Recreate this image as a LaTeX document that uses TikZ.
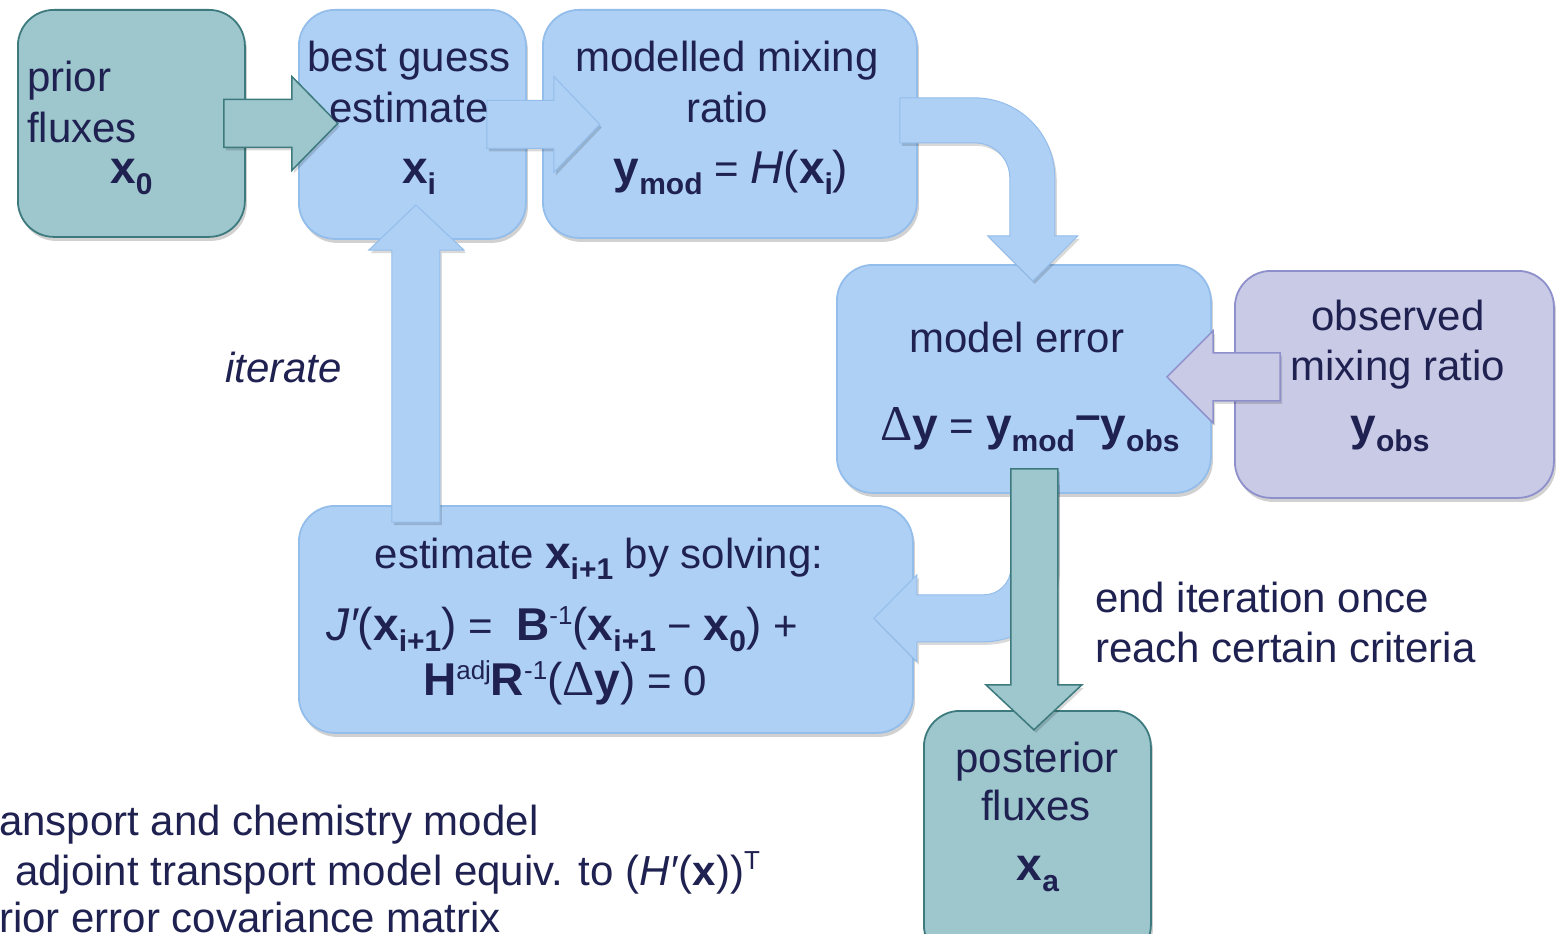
\documentclass[tikz,border=0pt]{standalone}
\usepackage{fontspec}
\setmainfont{Liberation Sans}
\newfontfamily\serifgreek{Liberation Serif}
\usetikzlibrary{calc,shadows}
\definecolor{txt}{HTML}{1F2151}
\definecolor{tealfill}{HTML}{9DC6CD}
\definecolor{tealline}{HTML}{3D7A7E}
\definecolor{bluefill}{HTML}{AFD0F5}
\definecolor{blueline}{HTML}{93BDEB}
\definecolor{purplefill}{HTML}{C9CAE6}
\definecolor{purpleline}{HTML}{8E90CB}
\newcommand{\fs}{\fontsize{42}{50}\selectfont}
\newcommand{\bv}[1]{{\fontsize{46}{50}\selectfont\bfseries #1}}
\newcommand{\rv}[1]{{\fontsize{46}{50}\selectfont #1}}
\newcommand{\bsub}[1]{\raisebox{-11pt}{\fontsize{30}{30}\selectfont\bfseries #1}}
\newcommand{\rsup}[1]{\raisebox{16pt}{\fontsize{26}{26}\selectfont #1}}
\newcommand{\Dlt}{{\fontsize{50}{50}\selectfont\serifgreek Δ}}
\tikzset{
  box/.style={draw, rounded corners=36pt, line width=1.8pt, anchor=north west,
    drop shadow={shadow xshift=2pt, shadow yshift=-4pt, opacity=0.18, fill=black}},
  tealbox/.style={box, fill=tealfill, draw=tealline},
  bluebox/.style={box, fill=bluefill, draw=blueline},
  purplebox/.style={box, fill=purplefill, draw=purpleline},
  arrowshadow/.style={drop shadow={shadow xshift=2pt, shadow yshift=-3pt, opacity=0.15, fill=black}},
  tealarrow/.style={fill=tealfill, draw=tealline, line width=1.5pt, arrowshadow},
  bluearrow/.style={fill=bluefill, draw=blueline, line width=1pt, arrowshadow},
  purplearrow/.style={fill=purplefill, draw=purpleline, line width=1.5pt, arrowshadow},
  lbl/.style={text=txt, font=\fs, inner sep=0pt, anchor=base},
  lblw/.style={lbl, anchor=base west}
}
\begin{document}
\begin{tikzpicture}[x=1pt,y=-1pt]
\useasboundingbox (0,0) rectangle (1556,934);
\clip (0,0) rectangle (1556,934);
\fill[white] (0,0) rectangle (1556,934);
% boxes
\node[tealbox, minimum width=227pt, minimum height=227pt] (prior) at (17,9) {};
\node[bluebox, minimum width=227pt, minimum height=229pt] (best) at (298,9) {};
\node[bluebox, minimum width=374pt, minimum height=228pt] (modl) at (542,9) {};
\node[bluebox, minimum width=374pt, minimum height=228pt] (err) at (836,264) {};
\node[purplebox, minimum width=319pt, minimum height=227pt] (obs) at (1234,270) {};
\node[bluebox, minimum width=614pt, minimum height=227pt] (est) at (298,505) {};
\node[tealbox, minimum width=227pt, minimum height=250pt] (post) at (923,710) {};
% arrows
\draw[tealarrow] ($(prior.east)+(-22,-24)$) -- ++(68,0) -- ++(0,-23) -- ++(46,47) -- ++(-46,47) -- ++(0,-23) -- ++(-68,0) -- cycle;
\draw[bluearrow] ($(best.east)+(-40,-24)$) -- ++(67,0) -- ++(0,-24) -- ++(46,48) -- ++(-46,48) -- ++(0,-24) -- ++(-67,0) -- cycle;
\draw[bluearrow] ($(modl.east)+(-18,-26)$) -- ++(75,0) .. controls +(44.2,0) and +(0,-44.2) .. ++(80,80) -- ++(0,58) -- ++(23,0) -- ++(-45,45) -- ++(-45,-45) -- ++(22,0) -- ++(0,-58) .. controls +(0,-19.3) and +(19.3,0) .. ++(-35,-35) -- ++(-75,0) -- cycle;
\draw[purplearrow] ($(obs.west)+(46,-31.5)$) -- ++(-67,0) -- ++(0,-22) -- ++(-46,46) -- ++(46,46) -- ++(0,-22) -- ++(67,0) -- cycle;
\draw[bluearrow] ($(err.south)+(-13,-12)$) -- ++(0,86) .. controls +(0,14.9) and +(14.9,0) .. ++(-27,27) -- ++(-67,0) -- ++(0,-20) -- ++(-43,43.5) -- ++(43,43.5) -- ++(0,-20) -- ++(67,0) .. controls +(40.8,0) and +(0,40.8) .. ++(74,-74) -- ++(0,-86) -- cycle;
\draw[tealarrow] ($(err.south)+(-13,-25)$) -- ++(47,0) -- ++(0,216) -- ++(24,0) -- ++(-48,45) -- ++(-48,-45) -- ++(25,0) -- cycle;
\draw[bluearrow] ($(best.south |- est.north)+(-20.5,17)$) -- ++(0,-272) -- ++(-23,0) -- ++(47,-45) -- ++(48,45) -- ++(-24,0) -- ++(0,272) -- cycle;
% texts
\node[lblw] (tprior) at (27,92) {prior};
\node[lblw] (tflux) at (27,142) {fluxes};
\node[lblw] (tx0) at (110,183) {\bv{x}\bsub{0}};
\node[lbl] (tbest1) at (409,72) {best guess};
\node[lbl] (tbest2) at (409,122) {estimate};
\node[lbl] (txi) at (419,183) {\bv{x}\bsub{i}};
\node[lbl] (tm1) at (727,72) {modelled mixing};
\node[lbl] (tm2) at (727,122) {ratio};
\node[lbl] (tm3) at (731,183) {\bv{y}\bsub{mod} = \rv{\itshape H}\rv{(}\bv{x}\bsub{i}\rv{)}};
\node[lbl] (te1) at (1017,352) {model error};
\node[lbl] (te2) at (1030,440) {\Dlt\bv{y} = \bv{y}\bsub{mod}\raisebox{10pt}{\fontsize{46}{46}\selectfont\bfseries –}\bv{y}\bsub{obs}};
\node[lbl] (to1) at (1398,330) {observed};
\node[lbl] (to2) at (1398,380) {mixing ratio};
\node[lbl] (to3) at (1390,440) {\bv{y}\bsub{obs}};
\node[lblw, font=\fs\itshape] (titer) at (225,382) {iterate};
\node[lbl] (ts1) at (599,568) {estimate \bv{x}\bsub{i+1} by solving:};
\node[lbl] (ts2) at (562,640) {\rv{\itshape J′}\rv{(}\bv{x}\bsub{i+1}\rv{)} =\ \ \bv{B}\rsup{-1}\rv{(}\bv{x}\bsub{i+1} − \bv{x}\bsub{0}\rv{)} +};
\node[lbl] (ts3) at (565,695) {\bv{H}\rsup{adj}\bv{R}\rsup{-1}\rv{(}\Dlt\bv{y}\rv{)} = 0};
\node[lblw] (tend1) at (1095,612) {end iteration once};
\node[lblw] (tend2) at (1095,662) {reach certain criteria};
\node[lbl] (tp1) at (1037,772) {posterior};
\node[lbl] (tp2) at (1036,820) {fluxes};
\node[lbl] (tp3) at (1038,880) {\bv{x}\bsub{a}};
\node[lblw] (tb1) at (-1,835) {ansport and chemistry model};
\node[lblw] (tb2) at (15,885) {adjoint transport model equiv. to (\textit{H′}(\textbf{x}))\rsup{T}};
\node[lblw] (tb3) at (-1,932) {rior error covariance matrix};
\end{tikzpicture}
\end{document}
